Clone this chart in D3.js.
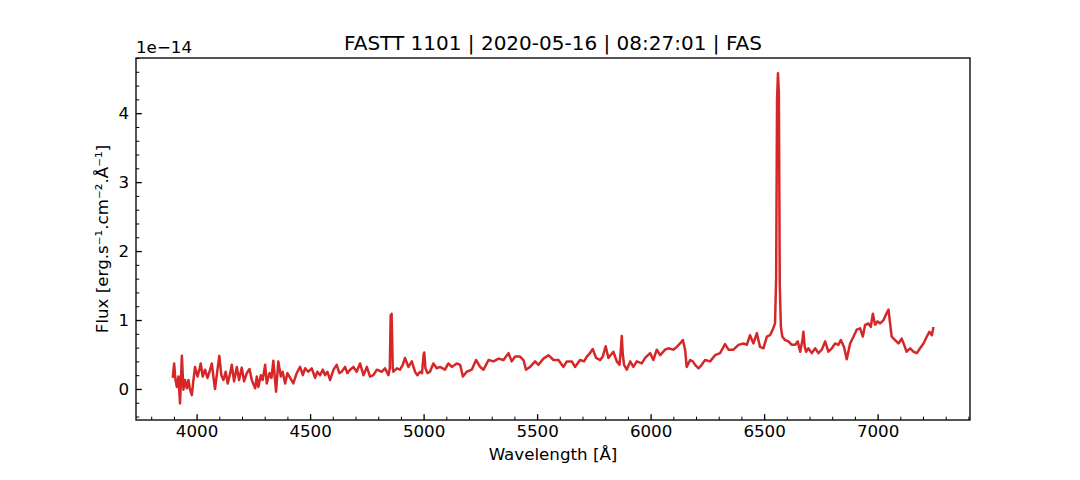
<!DOCTYPE html>
<html>
<head>
<meta charset="utf-8">
<script src="https://cdn.jsdelivr.net/npm/d3@7"></script>
<style>
body { margin: 0; background: #fff; }
svg text { font-family: "DejaVu Sans", sans-serif; fill: #000; }
</style>
</head>
<body>
<svg id="chart" width="1080" height="480"></svg>
<script>
// spectrum, flux in units of 1e-14
var wavelength = [
	3895, 3901, 3907, 3913, 3920, 3927, 3935, 3942, 3949, 3957, 3964, 3971, 3979, 3986, 3993,
	4004, 4012, 4018, 4027, 4037, 4048, 4057, 4067, 4074, 4081, 4092, 4100, 4109, 4118, 4128,
	4137, 4148, 4155, 4165, 4177, 4187, 4199, 4209, 4221, 4233, 4243, 4258, 4265, 4272, 4283,
	4291, 4302, 4309, 4321, 4330, 4338, 4350, 4360, 4371, 4379, 4390, 4400, 4412, 4426, 4441,
	4456, 4468, 4478, 4492, 4507, 4522, 4532, 4544, 4556, 4566, 4576, 4588, 4603, 4617, 4629,
	4639, 4654, 4664, 4676, 4691, 4705, 4720, 4735, 4750, 4764, 4779, 4794, 4816, 4830, 4845,
	4851, 4855, 4859, 4864, 4867, 4882, 4896, 4908, 4918, 4933, 4948, 4962, 4973, 4984, 4993,
	5000, 5003, 5008, 5017, 5028, 5043, 5058, 5072, 5094, 5109, 5124, 5146, 5161, 5173, 5190,
	5212, 5231, 5249, 5264, 5286, 5308, 5330, 5352, 5374, 5388, 5403, 5425, 5440, 5451, 5469,
	5491, 5506, 5528, 5550, 5572, 5594, 5616, 5631, 5653, 5667, 5689, 5707, 5719, 5733, 5745,
	5760, 5778, 5789, 5802, 5814, 5836, 5851, 5863, 5869, 5873, 5877, 5883, 5895, 5910, 5924,
	5939, 5961, 5976, 5998, 6012, 6027, 6042, 6064, 6078, 6100, 6115, 6130, 6142, 6152, 6159,
	6174, 6186, 6196, 6211, 6225, 6240, 6262, 6284, 6306, 6328, 6343, 6365, 6387, 6409, 6424,
	6438, 6453, 6468, 6482, 6497, 6512, 6526, 6538, 6548, 6553, 6557, 6561, 6565, 6569, 6574,
	6580, 6592, 6607, 6622, 6637, 6648, 6659, 6669, 6673, 6679, 6685, 6695, 6710, 6725, 6739,
	6754, 6769, 6783, 6798, 6813, 6827, 6838, 6852, 6864, 6879, 6894, 6908, 6923, 6935, 6945,
	6960, 6970, 6979, 6989, 7000, 7011, 7026, 7040, 7048, 7055, 7062, 7077, 7092, 7106, 7117,
	7128, 7143, 7158, 7173, 7187, 7202, 7217, 7228, 7239, 7246
];
var flux = [
	0.16, 0.37, 0.13, 0.03, 0.18, -0.21, 0.48, -0.01, 0.13, 0.01, 0.13, -0.01, -0.09, 0.13, 0.32,
	0.18, 0.28, 0.37, 0.18, 0.28, 0.16, 0.25, 0.37, 0.18, 0.00, 0.28, 0.48, 0.20, 0.13, 0.25,
	0.08, 0.23, 0.35, 0.11, 0.32, 0.13, 0.31, 0.11, 0.23, 0.29, 0.13, 0.01, 0.18, 0.03, 0.20,
	0.13, 0.35, 0.08, 0.23, 0.16, 0.41, -0.04, 0.40, 0.18, 0.25, 0.08, 0.23, 0.16, 0.08, 0.23,
	0.32, 0.20, 0.30, 0.25, 0.30, 0.16, 0.25, 0.20, 0.28, 0.20, 0.25, 0.13, 0.28, 0.35, 0.23,
	0.25, 0.32, 0.23, 0.28, 0.32, 0.25, 0.37, 0.20, 0.32, 0.18, 0.20, 0.28, 0.25, 0.30, 0.20,
	0.30, 1.07, 1.09, 0.30, 0.25, 0.30, 0.28, 0.35, 0.45, 0.32, 0.40, 0.25, 0.20, 0.25, 0.23,
	0.50, 0.53, 0.30, 0.23, 0.25, 0.37, 0.30, 0.32, 0.28, 0.37, 0.32, 0.37, 0.35, 0.18, 0.25,
	0.28, 0.42, 0.32, 0.28, 0.42, 0.40, 0.44, 0.42, 0.52, 0.40, 0.47, 0.47, 0.42, 0.28, 0.32,
	0.40, 0.35, 0.44, 0.49, 0.42, 0.42, 0.32, 0.40, 0.40, 0.32, 0.42, 0.40, 0.47, 0.52, 0.58,
	0.45, 0.42, 0.47, 0.62, 0.45, 0.54, 0.40, 0.35, 0.57, 0.77, 0.52, 0.35, 0.28, 0.40, 0.32,
	0.40, 0.37, 0.45, 0.52, 0.42, 0.57, 0.49, 0.57, 0.59, 0.57, 0.61, 0.66, 0.71, 0.57, 0.32,
	0.42, 0.40, 0.35, 0.30, 0.35, 0.42, 0.40, 0.49, 0.52, 0.65, 0.57, 0.57, 0.64, 0.66, 0.64,
	0.78, 0.66, 0.81, 0.61, 0.59, 0.76, 0.78, 0.86, 0.95, 1.60, 4.20, 4.58, 4.30, 1.50, 0.90,
	0.76, 0.71, 0.69, 0.64, 0.64, 0.69, 0.54, 0.71, 0.83, 0.61, 0.54, 0.59, 0.52, 0.59, 0.52,
	0.57, 0.69, 0.54, 0.59, 0.66, 0.64, 0.71, 0.61, 0.43, 0.66, 0.76, 0.86, 0.88, 0.76, 0.93,
	0.95, 0.90, 1.09, 0.93, 0.98, 0.95, 1.00, 1.10, 1.15, 0.95, 0.76, 0.71, 0.66, 0.73, 0.64,
	0.54, 0.59, 0.54, 0.52, 0.59, 0.66, 0.76, 0.83, 0.78, 0.90
];
var xTicks = [4000, 4500, 5000, 5500, 6000, 6500, 7000];
var yTicks = [0, 1, 2, 3, 4];
var xLimits = [3733, 7407];
var yLimits = [-0.45, 4.80];

var titleText = "FASTT 1101 | 2020-05-16 | 08:27:01 | FAS";

// 9x4 in at 120 dpi: 10pt -> 16.7px, 12pt -> 20px
var margin = {left: 136, right: 110, top: 58, bottom: 60};
var width = 1080 - margin.left - margin.right,
	height = 480 - margin.top - margin.bottom;

var svg = d3.select("#chart");
var g = svg.append("g")
	.attr("transform", "translate(" + margin.left + "," + margin.top + ")");

var x = d3.scaleLinear().domain(xLimits).range([0, width]);
var y = d3.scaleLinear().domain(yLimits).range([height, 0]);

var points = wavelength.map(function(w, i) { return {w: w, f: flux[i]}; });

// minor ticks first, then major (inward, like mpl direction='in')
var xMinor = d3.range(3800, 7401, 100).filter(function(d) { return d % 500 !== 0; });
var yMinor = d3.range(-0.4, 4.81, 0.2).filter(function(d) { return Math.abs(d - Math.round(d)) > 0.01; });

g.append("g")
	.attr("class", "minor")
	.attr("transform", "translate(0," + height + ")")
	.call(d3.axisBottom(x).tickValues(xMinor).tickSize(-3.3).tickFormat(""));

g.append("g")
	.attr("class", "minor")
	.call(d3.axisLeft(y).tickValues(yMinor).tickSize(-3.3).tickFormat(""));

g.append("g")
	.attr("class", "major")
	.attr("transform", "translate(0," + height + ")")
	.call(d3.axisBottom(x).tickValues(xTicks).tickSize(-5.8).tickPadding(5.5).tickFormat(d3.format("d")));

g.append("g")
	.attr("class", "major")
	.call(d3.axisLeft(y).tickValues(yTicks).tickSize(-5.8).tickPadding(7).tickFormat(d3.format("d")));

g.selectAll(".domain").remove();
g.selectAll(".major .tick line").attr("stroke", "#000").attr("stroke-width", 1.33);
g.selectAll(".minor .tick line").attr("stroke", "#000").attr("stroke-width", 1);
g.selectAll(".major text")
	.style("font-size", "16.7px")
	.attr("fill", "#000");

// the spectrum
var line = d3.line()
	.x(function(d) { return x(d.w); })
	.y(function(d) { return y(d.f); });

g.append("path")
	.datum(points)
	.attr("fill", "none")
	.attr("stroke", "#d62728")
	.attr("stroke-width", 2.5)
	.attr("stroke-linejoin", "round")
	.attr("d", line);

// frame
g.append("rect")
	.attr("width", width)
	.attr("height", height)
	.attr("fill", "none")
	.attr("stroke", "#000")
	.attr("stroke-width", 1.33);

// offset text, title and labels
g.append("text")
	.attr("x", 0)
	.attr("y", -5)
	.style("font-size", "16.7px")
	.text("1e\u221214");

g.append("text")
	.attr("x", width / 2)
	.attr("y", -8)
	.attr("text-anchor", "middle")
	.style("font-size", "20px")
	.text(titleText);

g.append("text")
	.attr("x", width / 2)
	.attr("y", height + 40)
	.attr("text-anchor", "middle")
	.style("font-size", "16.7px")
	.text("Wavelength [\u00c5]");

g.append("text")
	.attr("transform", "translate(-28," + (height / 2) + ") rotate(-90)")
	.attr("text-anchor", "middle")
	.style("font-size", "16.7px")
	.text("Flux [erg.s\u207b\u00b9.cm\u207b\u00b2.\u00c5\u207b\u00b9]");
</script>
</body>
</html>
